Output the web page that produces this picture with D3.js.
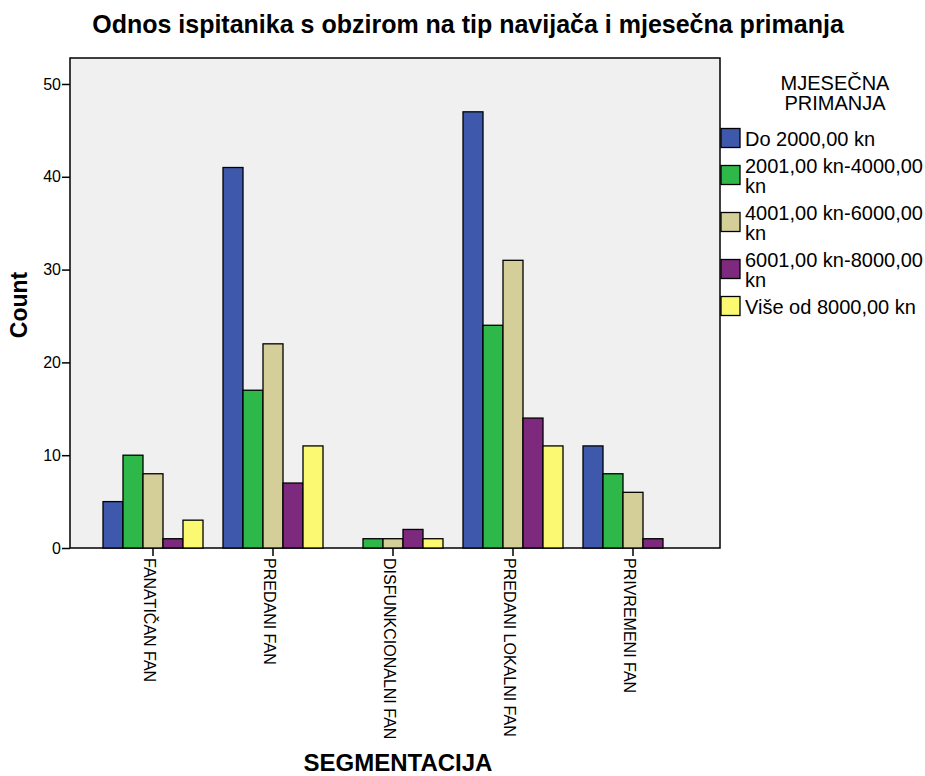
<!DOCTYPE html>
<html lang="hr">
<head>
<meta charset="utf-8">
<title>Odnos ispitanika</title>
<script src="https://d3js.org/d3.v7.min.js"></script>
<style>
  body { margin: 0; background: #fff; }
  svg text { font-family: "Liberation Sans", Arial, sans-serif; fill: #000; }
  .title { font-size: 25px; font-weight: bold; }
  .axis-title { font-size: 23px; font-weight: bold; }
  .axis text { font-family: "Liberation Sans", Arial, sans-serif; fill: #000; }
  .yaxis text { font-size: 16px; }
  .xaxis text { font-size: 16px; }
  .axis path, .axis line { stroke: #000; stroke-width: 1.5; }
  .legend { font-size: 20px; }
</style>
</head>
<body>
<svg id="chart" width="925" height="776"></svg>
<script>
// data
var categories = ["FANATIČAN FAN", "PREDANI FAN", "DISFUNKCIONALNI FAN", "PREDANI LOKALNI FAN", "PRIVREMENI FAN"];
var groups = ["Do 2000,00 kn", "2001,00 kn-4000,00 kn", "4001,00 kn-6000,00 kn", "6001,00 kn-8000,00 kn", "Više od 8000,00 kn"];
var colors = ["#3e58ac", "#2fb84a", "#d4cf98", "#7d2a7e", "#fbf871"];
// counts per category, one list per income group
var do2000   = [5, 41, 0, 47, 11];
var od2001   = [10, 17, 1, 24, 8];
var od4001   = [8, 22, 1, 31, 6];
var od6001   = [1, 7, 2, 14, 1];
var vise8000 = [3, 11, 1, 11, 0];
var yTicks = [0, 10, 20, 30, 40, 50];

var series = [do2000, od2001, od4001, od6001, vise8000];
var rows = [];
categories.forEach(function(c, i) {
  groups.forEach(function(g, j) {
    rows.push({ cat: c, grp: g, value: series[j][i] });
  });
});

var svg = d3.select("#chart");

// plot frame
var plotL = 70, plotR = 720, plotT = 58, plotB = 548;

var x0 = d3.scaleBand().domain(categories).range([93, 693])
  .paddingInner(1 / 6).paddingOuter(1 / 12);
var x1 = d3.scaleBand().domain(groups).range([0, x0.bandwidth()]);
var y = d3.scaleLinear().domain([0, 52.8]).range([plotB, plotT]);
var color = d3.scaleOrdinal().domain(groups).range(colors);

svg.append("rect")
  .attr("x", plotL).attr("y", plotT)
  .attr("width", plotR - plotL).attr("height", plotB - plotT)
  .attr("fill", "#f0f0f0")
  .attr("stroke", "#000").attr("stroke-width", 1.5);

svg.append("g")
  .selectAll("rect")
  .data(rows.filter(function(d) { return d.value > 0; }))
  .enter()
  .append("rect")
    .attr("x", function(d) { return x0(d.cat) + x1(d.grp); })
    .attr("y", function(d) { return y(d.value); })
    .attr("width", x1.bandwidth())
    .attr("height", function(d) { return plotB - y(d.value); })
    .attr("fill", function(d) { return color(d.grp); })
    .attr("stroke", "#000")
    .attr("stroke-width", 1.3);

// y axis
var yAxis = svg.append("g")
  .attr("class", "axis yaxis")
  .attr("transform", "translate(" + plotL + ",0)")
  .call(d3.axisLeft(y).tickValues(yTicks).tickSize(8).tickPadding(1).tickSizeOuter(0));
yAxis.select(".domain").remove();

// x axis
var xAxis = svg.append("g")
  .attr("class", "axis xaxis")
  .attr("transform", "translate(0," + plotB + ")")
  .call(d3.axisBottom(x0).tickSize(8).tickSizeOuter(0));
xAxis.select(".domain").remove();
xAxis.selectAll("text")
  .attr("transform", "rotate(90)")
  .attr("x", 10)
  .attr("y", 0)
  .attr("dy", "0.55em")
  .style("text-anchor", "start");

// titles
svg.append("text")
  .attr("class", "title")
  .attr("x", 468).attr("y", 33)
  .attr("text-anchor", "middle")
  .text("Odnos ispitanika s obzirom na tip navijača i mjesečna primanja");

svg.append("text")
  .attr("class", "axis-title")
  .attr("transform", "translate(27,305) rotate(-90)")
  .attr("text-anchor", "middle")
  .text("Count");

svg.append("text")
  .attr("class", "axis-title")
  .attr("x", 398).attr("y", 771)
  .attr("text-anchor", "middle")
  .style("font-size", "24px")
  .text("SEGMENTACIJA");

// legend
var lg = svg.append("g").attr("class", "legend");
lg.append("text").attr("x", 835).attr("y", 90).attr("text-anchor", "middle").text("MJESEČNA");
lg.append("text").attr("x", 835).attr("y", 110).attr("text-anchor", "middle").text("PRIMANJA");

var maxW = 180, lineH = 20, base = 146;
groups.forEach(function(g) {
  var t = lg.append("text").attr("x", 745);
  var words = g.split(" "), line = [], lines = [];
  var probe = t.append("tspan");
  words.forEach(function(w) {
    line.push(w);
    probe.text(line.join(" "));
    if (probe.node().getComputedTextLength() > maxW && line.length > 1) {
      line.pop();
      lines.push(line.join(" "));
      line = [w];
    }
  });
  lines.push(line.join(" "));
  probe.remove();
  lines.forEach(function(l, k) {
    t.append("tspan").attr("x", 745).attr("y", base + k * lineH).text(l);
  });
  var mid = base + (lines.length - 1) * lineH / 2 - 8;
  lg.append("rect")
    .attr("x", 721).attr("y", mid - 9.5)
    .attr("width", 19).attr("height", 19)
    .attr("fill", color(g))
    .attr("stroke", "#000").attr("stroke-width", 1.3);
  base += (lines.length - 1) * lineH + 27;
});
</script>
</body>
</html>
